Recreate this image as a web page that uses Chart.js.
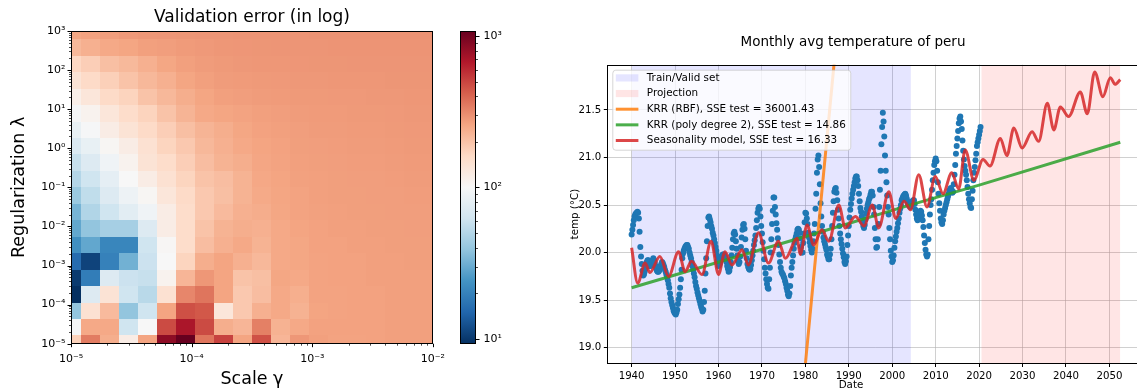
<!DOCTYPE html>
<html lang="en">
<head>
<meta charset="UTF-8">
<title>Validation error / Monthly avg temperature of peru</title>
<script src="https://cdn.jsdelivr.net/npm/chart.js"></script>
<style>
  html, body { margin: 0; padding: 0; background: #fff; }
  body { width: 1137px; height: 392px; overflow: hidden; position: relative; }
  canvas { position: absolute; top: 0; }
</style>
</head>
<body>
<canvas id="heat" width="450" height="392" style="left:0px"></canvas>
<canvas id="cbar" width="110" height="392" style="left:440px"></canvas>
<canvas id="temp" width="600" height="392" style="left:560px"></canvas>

<script>
// ---- left panel: validation error grid ----
const gammas = [1.000e-5, 1.438e-5, 2.069e-5, 2.976e-5, 4.281e-5, 6.158e-5, 8.859e-5, 1.274e-4, 1.833e-4, 2.637e-4,
                3.793e-4, 5.456e-4, 7.848e-4, 1.129e-3, 1.624e-3, 2.336e-3, 3.360e-3, 4.833e-3, 6.952e-3, 1.000e-2];
const lambdas = [1.000e-5, 2.637e-5, 6.952e-5, 1.833e-4, 4.833e-4, 1.274e-3, 3.360e-3, 8.859e-3, 2.336e-2, 6.158e-2,
                 1.624e-1, 4.281e-1, 1.129, 2.976, 7.848, 20.69, 54.56, 143.8, 379.3, 1000];
// errors[i][j] -> lambdas[i], gammas[j]
const errors = [
  [175, 345, 240, 120, 260, 850, 1079, 360, 510, 260, 460, 225, 285, 268, 262, 262, 265, 268, 268, 268],
  [95, 250, 250, 62, 100, 480, 700, 480, 240, 225, 335, 232, 250, 265, 265, 265, 265, 268, 268, 268],
  [39, 145, 215, 39, 62, 260, 465, 440, 133, 190, 235, 250, 232, 260, 262, 265, 265, 268, 268, 268],
  [9.31, 72, 140, 62, 52, 145, 320, 360, 260, 190, 210, 250, 238, 262, 262, 265, 265, 268, 268, 268],
  [10.2, 19, 72, 60, 58, 110, 225, 285, 260, 200, 207, 255, 250, 262, 265, 265, 268, 268, 268, 268],
  [16, 11, 20, 32, 60, 100, 170, 240, 260, 235, 220, 250, 255, 262, 265, 265, 268, 268, 270, 270],
  [23, 29, 21, 21, 62, 103, 155, 210, 235, 250, 230, 250, 255, 265, 265, 268, 268, 270, 270, 270],
  [29, 39, 45, 45, 72, 120, 155, 200, 230, 240, 235, 250, 260, 265, 268, 268, 270, 270, 272, 272],
  [33, 49, 62, 77, 91, 120, 155, 190, 215, 235, 242, 255, 262, 267, 268, 270, 270, 272, 272, 272],
  [41, 55, 72, 88, 104, 133, 160, 190, 207, 230, 248, 258, 262, 268, 270, 270, 272, 272, 274, 274],
  [50, 62, 80, 100, 120, 145, 170, 200, 210, 230, 252, 260, 266, 268, 270, 272, 272, 274, 276, 276],
  [58, 72, 91, 110, 140, 155, 180, 210, 230, 240, 256, 262, 268, 270, 272, 274, 274, 276, 278, 278],
  [70, 83, 104, 120, 145, 170, 190, 220, 235, 250, 260, 265, 270, 272, 274, 276, 276, 278, 280, 280],
  [83, 98, 120, 140, 160, 180, 207, 228, 240, 255, 264, 268, 272, 275, 276, 278, 278, 280, 282, 282],
  [96, 110, 133, 155, 172, 200, 228, 250, 258, 262, 268, 272, 275, 278, 278, 280, 280, 282, 284, 284],
  [115, 133, 160, 172, 200, 220, 240, 258, 268, 272, 276, 278, 280, 280, 282, 282, 284, 284, 286, 286],
  [140, 160, 178, 200, 220, 235, 258, 268, 275, 278, 280, 282, 284, 284, 285, 286, 286, 288, 288, 288],
  [165, 180, 207, 218, 235, 255, 268, 275, 280, 283, 285, 286, 287, 288, 288, 289, 289, 290, 290, 290],
  [220, 235, 250, 258, 268, 272, 278, 282, 286, 287, 288, 289, 290, 290, 291, 291, 292, 292, 292, 292],
  [255, 265, 272, 282, 285, 287, 288, 289, 290, 291, 292, 292, 292, 293, 293, 293, 293, 294, 294, 294]
];
const errMin = 9.31, errMax = 1079;
const gammaTicks = [1e-5, 1e-4, 1e-3, 1e-2];
const gammaTickLabels = ['10⁻⁵', '10⁻⁴', '10⁻³', '10⁻²'];
const lambdaTicks = [1e-5, 1e-4, 1e-3, 1e-2, 1e-1, 1, 10, 100, 1000];
const lambdaTickLabels = ['10⁻⁵', '10⁻⁴', '10⁻³', '10⁻²', '10⁻¹', '10⁰', '10¹', '10²', '10³'];
const cbarTicks = [10, 100, 1000];
const cbarTickLabels = ['10¹', '10²', '10³'];

// ---- right panel: temperature, one row per year, samples every two months ----
const tempFirstYear = 1940;
const tempSamplesPerYear = 6;
const tempByYear = [
  [20.19, 20.24, 20.29, 20.34, 20.38, 20.40], // 1940
  [20.41, 20.42, 20.43, 20.42, 20.36, 20.22],
  [20.06, 19.96, 19.88, 19.81, 19.76, 19.77],
  [19.80, 19.83, 19.87, 19.90, 19.92, 19.92],
  [19.89, 19.86, 19.86, 19.88, 19.90, 19.92],
  [19.94, 19.92, 19.89, 19.86, 19.83, 19.81],
  [19.80, 19.80, 19.81, 19.84, 19.86, 19.88],
  [19.90, 19.89, 19.87, 19.85, 19.82, 19.80],
  [19.77, 19.74, 19.71, 19.67, 19.63, 19.57],
  [19.52, 19.48, 19.45, 19.42, 19.39, 19.37],
  [19.36, 19.35, 19.37, 19.40, 19.46, 19.51], // 1950
  [19.56, 19.63, 19.72, 19.82, 19.94, 19.99],
  [20.02, 20.04, 20.06, 20.07, 20.08, 20.08],
  [20.06, 20.04, 20.00, 19.97, 19.94, 19.90],
  [19.86, 19.82, 19.78, 19.74, 19.69, 19.65],
  [19.62, 19.58, 19.55, 19.52, 19.49, 19.46],
  [19.43, 19.41, 19.38, 19.40, 19.48, 19.60],
  [19.78, 19.94, 20.12, 20.28, 20.37, 20.38],
  [20.35, 20.32, 20.28, 20.25, 20.21, 20.18],
  [20.14, 20.10, 20.06, 20.02, 19.97, 19.92],
  [19.86, 19.87, 19.89, 19.92, 19.95, 19.97], // 1960
  [19.98, 19.98, 19.97, 19.95, 19.93, 19.90],
  [19.86, 19.83, 19.80, 19.81, 19.85, 19.90],
  [19.97, 20.05, 20.14, 20.20, 20.22, 20.19],
  [20.12, 20.04, 19.97, 19.91, 19.88, 19.90],
  [19.96, 20.06, 20.16, 20.24, 20.29, 20.30],
  [20.25, 20.14, 20.02, 19.94, 19.88, 19.85],
  [19.83, 19.82, 19.83, 19.87, 19.92, 19.97],
  [20.02, 20.08, 20.13, 20.18, 20.26, 20.34],
  [20.42, 20.46, 20.48, 20.46, 20.38, 20.28],
  [20.20, 20.11, 20.02, 19.93, 19.84, 19.78], // 1970
  [19.72, 19.67, 19.63, 19.62, 19.72, 19.84],
  [20.00, 20.14, 20.30, 20.44, 20.58, 20.58],
  [20.48, 20.40, 20.31, 20.24, 20.15, 20.08],
  [19.98, 19.90, 19.84, 19.80, 19.78, 19.77],
  [19.75, 19.73, 19.70, 19.67, 19.63, 19.60],
  [19.56, 19.54, 19.57, 19.65, 19.76, 19.84],
  [19.90, 19.97, 20.04, 20.10, 20.14, 20.17],
  [20.20, 20.24, 20.25, 20.24, 20.21, 20.15],
  [20.06, 20.00, 20.00, 20.10, 20.20, 20.32],
  [20.42, 20.41, 20.36, 20.30, 20.21, 20.16], // 1980
  [20.11, 20.07, 20.03, 20.00, 20.04, 20.12],
  [20.20, 20.30, 20.46, 20.62, 20.84, 20.98],
  [21.02, 20.90, 20.72, 20.52, 20.38, 20.28],
  [20.22, 20.16, 20.12, 20.09, 20.06, 20.03],
  [19.98, 19.96, 19.93, 19.93, 19.98, 20.04],
  [20.14, 20.28, 20.42, 20.54, 20.64, 20.67],
  [20.68, 20.63, 20.55, 20.45, 20.36, 20.28],
  [20.20, 20.14, 20.09, 20.04, 19.99, 19.95],
  [19.90, 19.88, 19.91, 19.96, 20.08, 20.18],
  [20.28, 20.37, 20.45, 20.51, 20.57, 20.62], // 1990
  [20.66, 20.70, 20.74, 20.78, 20.80, 20.80],
  [20.76, 20.70, 20.62, 20.54, 20.47, 20.43],
  [20.38, 20.32, 20.28, 20.26, 20.29, 20.35],
  [20.41, 20.46, 20.50, 20.53, 20.56, 20.58],
  [20.61, 20.64, 20.64, 20.60, 20.48, 20.40],
  [20.26, 20.14, 20.05, 20.06, 20.14, 20.30],
  [20.48, 20.66, 20.86, 21.14, 21.32, 21.47],
  [21.38, 21.22, 21.02, 20.86, 20.74, 20.60],
  [20.48, 20.40, 20.26, 20.14, 20.02, 19.96],
  [19.90, 19.92, 19.97, 20.05, 20.12, 20.17], // 2000
  [20.22, 20.26, 20.31, 20.36, 20.42, 20.46],
  [20.50, 20.55, 20.57, 20.59, 20.60, 20.61],
  [20.62, 20.60, 20.57, 20.54, 20.51, 20.50],
  [20.49, 20.48, 20.49, 20.52, 20.54, 20.55],
  [20.55, 20.51, 20.45, 20.40, 20.36, 20.34],
  [20.36, 20.40, 20.42, 20.44, 20.43, 20.39],
  [20.34, 20.27, 20.18, 20.10, 20.03, 19.98],
  [19.96, 19.98, 20.14, 20.28, 20.40, 20.50],
  [20.56, 20.66, 20.76, 20.84, 20.92, 20.96],
  [20.99, 20.96, 20.86, 20.74, 20.62, 20.52], // 2010
  [20.44, 20.36, 20.32, 20.30, 20.34, 20.40],
  [20.44, 20.47, 20.50, 20.53, 20.56, 20.59],
  [20.62, 20.65, 20.67, 20.68, 20.66, 20.63],
  [20.64, 20.72, 20.82, 20.92, 21.04, 21.12],
  [21.20, 21.28, 21.36, 21.41, 21.43, 21.38],
  [21.30, 21.18, 21.07, 20.98, 20.91, 20.86],
  [20.82, 20.76, 20.69, 20.62, 20.56, 20.52],
  [20.48, 20.47, 20.56, 20.65, 20.76, 20.84],
  [20.90, 20.97, 21.04, 21.12, 21.16, 21.20],
  [21.24, 21.28, 21.32]                         // 2020
];
const rbfYears = [1979.0, 1988.0];
const rbfValues = [18.35, 22.65];
const polyYears = [1940.0, 1980.0, 2004.0, 2020.0, 2052.5];
const polyValues = [19.63, 20.17, 20.50, 20.71, 21.16];
const seasonYears = [1940.0,1941.4,1943.1,1944.2,1946.5,1948.5,1950.8,1952.3,1953.8,1956.2,1958.3,1960.0,1961.5,1963.1,1965.4,1966.9,
  1969.2,1971.5,1973.8,1975.4,1978.1,1978.8,1980.4,1981.9,1983.8,1985.4,1987.7,1989.2,1991.5,1993.5,1995.4,1996.9,1999.2,2000.8,
  2002.7,2004.2,2006.1,2008.0,2009.9,2011.7,2013.7,2015.3,2016.8,2018.8,2020.9,2022.5,2024.9,2026.4,2028.0,2029.9,2032.2,2033.7,
  2035.7,2037.2,2038.7,2040.6,2043.3,2044.9,2046.6,2048.5,2050.2,2051.3,2052.5];
const seasonValues = [20.05,19.68,19.89,19.79,19.96,19.75,20.01,19.80,19.91,19.77,20.12,19.77,20.01,19.87,20.03,19.87,
  20.21,19.89,20.12,19.94,20.15,19.98,20.29,20.08,20.24,20.12,20.50,20.26,20.38,20.28,20.50,20.26,20.64,20.36,
  20.54,20.45,20.82,20.48,20.80,20.62,20.84,20.67,21.08,20.76,20.98,20.91,21.20,21.02,21.31,21.10,21.27,21.17,
  21.57,21.29,21.53,21.43,21.69,21.46,21.90,21.64,21.84,21.77,21.82];
const trainSpan = [1940.0, 2004.3];
const projSpan = [2020.5, 2052.5];
const yearTicks = [1940, 1950, 1960, 1970, 1980, 1990, 2000, 2010, 2020, 2030, 2040, 2050];
const tempTicks = [19.0, 19.5, 20.0, 20.5, 21.0, 21.5];
const tempTickLabels = ['19.0', '19.5', '20.0', '20.5', '21.0', '21.5'];
const tempMin = 18.834, tempMax = 21.976;

Chart.defaults.font.family = "'DejaVu Sans', sans-serif";
Chart.defaults.color = '#000';
Chart.defaults.animation = false;
Chart.defaults.plugins.legend.display = false;
Chart.defaults.plugins.tooltip.enabled = false;

// RdBu_r colour map
const rdbu = [[5,48,97],[33,102,172],[67,147,195],[146,197,222],[209,229,240],[247,247,247],
              [253,219,199],[244,165,130],[214,96,77],[178,24,43],[103,0,31]];
function cmap(t) {
  t = Math.min(1, Math.max(0, t));
  const s = t * 10, i = Math.min(9, Math.floor(s)), f = s - i;
  const a = rdbu[i], b = rdbu[i + 1];
  return 'rgb(' + [0, 1, 2].map(k => Math.round(a[k] + (b[k] - a[k]) * f)).join(',') + ')';
}
function lognorm(v) {
  return (Math.log10(v) - Math.log10(errMin)) / (Math.log10(errMax) - Math.log10(errMin));
}
function withMinors(majors) {
  const out = [];
  majors.forEach((m, i) => {
    out.push({ value: m, major: true });
    if (i < majors.length - 1) for (let k = 2; k <= 9; k++) out.push({ value: m * k, major: false });
  });
  return out;
}
function cellEdges(c) {
  const e = [c[0] * c[0] / Math.sqrt(c[0] * c[1])];
  for (let k = 0; k < c.length - 1; k++) e.push(Math.sqrt(c[k] * c[k + 1]));
  const n = c.length - 1;
  e.push(c[n] * c[n] / Math.sqrt(c[n] * c[n - 1]));
  return e;
}
function drawLogTicks(ctx, scale, side, a) {
  ctx.save();
  ctx.strokeStyle = '#000';
  scale.ticks.forEach(t => {
    const len = t.major ? 3.5 : 2;
    ctx.lineWidth = t.major ? 1 : 0.7;
    const p = Math.round(scale.getPixelForValue(t.value)) + 0.5;
    ctx.beginPath();
    if (side === 'bottom') { ctx.moveTo(p, a.bottom); ctx.lineTo(p, a.bottom + len); }
    if (side === 'left') { ctx.moveTo(a.left, p); ctx.lineTo(a.left - len, p); }
    if (side === 'right') { ctx.moveTo(a.right, p); ctx.lineTo(a.right + len, p); }
    ctx.stroke();
  });
  ctx.restore();
}
function strokeFrame(ctx, a) {
  ctx.save();
  ctx.strokeStyle = '#000';
  ctx.lineWidth = 1;
  ctx.strokeRect(Math.round(a.left) + 0.5, Math.round(a.top) + 0.5,
                 Math.round(a.right) - Math.round(a.left) - 1, Math.round(a.bottom) - Math.round(a.top) - 1);
  ctx.restore();
}

// free text labels (titles); x defaults to the middle of the plot area
const axTitle = {
  id: 'axTitle',
  afterDraw(chart, args, opts) {
    const { ctx, chartArea: a } = chart;
    ctx.save();
    ctx.fillStyle = '#000';
    ctx.textAlign = 'center';
    ctx.textBaseline = 'middle';
    opts.items.forEach(t => {
      ctx.font = t.size + "px 'DejaVu Sans'";
      ctx.fillText(t.text, t.x !== undefined ? t.x : (a.left + a.right) / 2, t.y);
    });
    ctx.restore();
  }
};

const heatmap = {
  id: 'heatmap',
  beforeDatasetsDraw(chart) {
    const { ctx, chartArea: a, scales: { x, y } } = chart;
    const xe = cellEdges(gammas), ye = cellEdges(lambdas);
    ctx.save();
    ctx.beginPath();
    ctx.rect(a.left, a.top, a.width, a.height);
    ctx.clip();
    chart.data.datasets[0].data.forEach(c => {
      const x0 = Math.round(x.getPixelForValue(xe[c.j])), x1 = Math.round(x.getPixelForValue(xe[c.j + 1]));
      const y0 = Math.round(y.getPixelForValue(ye[c.i])), y1 = Math.round(y.getPixelForValue(ye[c.i + 1]));
      ctx.fillStyle = cmap(lognorm(c.v));
      ctx.fillRect(x0, y1, x1 - x0, y0 - y1);
    });
    ctx.restore();
  },
  afterDatasetsDraw(chart) {
    const { ctx, chartArea: a, scales: { x, y } } = chart;
    strokeFrame(ctx, a);
    drawLogTicks(ctx, x, 'bottom', a);
    drawLogTicks(ctx, y, 'left', a);
  }
};

const cells = [];
lambdas.forEach((l, i) => gammas.forEach((g, j) => cells.push({ x: g, y: l, v: errors[i][j], i, j })));

new Chart(document.getElementById('heat'), {
  type: 'scatter',
  data: { datasets: [{ data: cells, pointRadius: 0 }] },
  options: {
    responsive: false,
    devicePixelRatio: 1,
    layout: { padding: { top: 31, right: 13, left: 0, bottom: 0 } },
    scales: {
      x: {
        type: 'logarithmic', min: 1e-5, max: 1e-2,
        afterBuildTicks: s => { s.ticks = withMinors(gammaTicks); },
        afterFit: s => { s.height = 48.3; },
        ticks: { autoSkip: false, maxRotation: 0, padding: 5, font: { size: 11 },
                 callback: v => { const k = gammaTicks.indexOf(v); return k < 0 ? '' : gammaTickLabels[k]; } },
        grid: { drawOnChartArea: false, tickLength: 3.5, tickColor: 'rgba(0,0,0,0)' },
        border: { display: false },
        title: { display: true, text: 'Scale γ', font: { size: 17.5 }, padding: { top: 0, bottom: 2.5 } }
      },
      y: {
        type: 'logarithmic', min: 1e-5, max: 1e3,
        afterBuildTicks: s => { s.ticks = withMinors(lambdaTicks); },
        afterFit: s => { s.width = 71; },
        ticks: { autoSkip: false, padding: 2, font: { size: 11 },
                 callback: v => { const k = lambdaTicks.indexOf(v); return k < 0 ? '' : lambdaTickLabels[k]; } },
        grid: { drawOnChartArea: false, tickLength: 3.5, tickColor: 'rgba(0,0,0,0)' },
        border: { display: false },
        title: { display: true, text: 'Regularization λ', font: { size: 17.5 }, padding: { top: 8.5, bottom: 0 } }
      }
    },
    plugins: { axTitle: { items: [{ text: 'Validation error (in log)', size: 17, y: 17.5 }] } }
  },
  plugins: [heatmap, axTitle]
});

// colour bar
const cbarFill = {
  id: 'cbarFill',
  beforeDatasetsDraw(chart) {
    const { ctx, chartArea: a, scales: { y } } = chart;
    const g = ctx.createLinearGradient(0, y.getPixelForValue(errMin), 0, y.getPixelForValue(errMax));
    rdbu.forEach((c, k) => g.addColorStop(k / 10, 'rgb(' + c.join(',') + ')'));
    ctx.save();
    ctx.fillStyle = g;
    ctx.fillRect(a.left, a.top, a.width, a.height);
    ctx.restore();
    strokeFrame(ctx, a);
    drawLogTicks(ctx, y, 'right', a);
  }
};
new Chart(document.getElementById('cbar'), {
  type: 'scatter',
  data: { datasets: [{ data: [], pointRadius: 0 }] },
  options: {
    responsive: false,
    devicePixelRatio: 1,
    layout: { padding: { top: 31, right: 34, left: 20, bottom: 48.3 } },
    scales: {
      x: { display: false, min: 0, max: 1 },
      y: {
        type: 'logarithmic', position: 'right', min: errMin, max: errMax,
        afterBuildTicks: s => { s.ticks = withMinors(cbarTicks); },
        afterFit: s => { s.width = 40; },
        ticks: { autoSkip: false, padding: 4, font: { size: 11 },
                 callback: v => { const k = cbarTicks.indexOf(v); return k < 0 ? '' : cbarTickLabels[k]; } },
        grid: { drawOnChartArea: false, tickLength: 3.5, tickColor: 'rgba(0,0,0,0)' },
        border: { display: false }
      }
    }
  },
  plugins: [cbarFill]
});

// ---- right panel ----
const frame = {
  id: 'frame',
  afterDatasetsDraw(chart) { strokeFrame(chart.ctx, chart.chartArea); }
};
const boxLegend = {
  id: 'boxLegend',
  afterDatasetsDraw(chart) {
    const { ctx, chartArea: a } = chart;
    const x = a.left + 5.5, y = a.top + 5.5, w = 238, h = 80, r = 3;
    ctx.save();
    ctx.beginPath();
    ctx.roundRect(x, y, w, h, r);
    ctx.fillStyle = 'rgba(255,255,255,0.8)';
    ctx.fill();
    ctx.strokeStyle = 'rgba(204,204,204,0.8)';
    ctx.lineWidth = 1;
    ctx.stroke();
    ctx.font = "10.4px 'DejaVu Sans'";
    ctx.textBaseline = 'middle';
    [0, 1, 3, 4, 5].forEach((idx, k) => {
      const ds = chart.data.datasets[idx];
      const cy = y + 7.7 + k * 15.65;
      if (ds.fill) {
        ctx.fillStyle = ds.backgroundColor;
        ctx.fillRect(x + 3, cy - 3.6, 22.6, 7.2);
      } else {
        ctx.strokeStyle = ds.borderColor;
        ctx.lineWidth = ds.borderWidth;
        ctx.beginPath();
        ctx.moveTo(x + 3, cy);
        ctx.lineTo(x + 25.6, cy);
        ctx.stroke();
      }
      ctx.fillStyle = '#000';
      ctx.fillText(ds.label, x + 34, cy);
    });
    ctx.restore();
  }
};
const pts = (xs, ys) => xs.map((v, i) => ({ x: v, y: ys[i] }));
const tempPoints = [];
tempByYear.forEach((row, yi) => row.forEach((t, m) =>
  tempPoints.push({ x: tempFirstYear + yi + m / tempSamplesPerYear, y: t })));

new Chart(document.getElementById('temp'), {
  type: 'scatter',
  data: {
    datasets: [
      { label: 'Train/Valid set', type: 'line', data: trainSpan.map(v => ({ x: v, y: tempMax })),
        fill: 'start', backgroundColor: 'rgba(0,0,255,0.1)', borderWidth: 0, pointRadius: 0, order: 10 },
      { label: 'Projection', type: 'line', data: projSpan.map(v => ({ x: v, y: tempMax })),
        fill: 'start', backgroundColor: 'rgba(255,0,0,0.1)', borderWidth: 0, pointRadius: 0, order: 10 },
      { label: 'Monthly temperature', data: tempPoints,
        pointRadius: 3, backgroundColor: '#1f77b4', borderWidth: 0, order: 5 },
      { label: 'KRR (RBF), SSE test = 36001.43', type: 'line', data: pts(rbfYears, rbfValues),
        borderColor: 'rgba(255,127,14,0.85)', borderWidth: 3, pointRadius: 0, fill: false, clip: 0, order: 3 },
      { label: 'KRR (poly degree 2), SSE test = 14.86', type: 'line', data: pts(polyYears, polyValues),
        borderColor: 'rgba(44,160,44,0.85)', borderWidth: 3, pointRadius: 0, fill: false, clip: 0, order: 2 },
      { label: 'Seasonality model, SSE test = 16.33', type: 'line', data: pts(seasonYears, seasonValues),
        borderColor: 'rgba(214,39,40,0.85)', borderWidth: 3, pointRadius: 0, fill: false, clip: 0,
        cubicInterpolationMode: 'monotone', order: 1 }
    ]
  },
  options: {
    responsive: false,
    devicePixelRatio: 1,
    layout: { padding: { top: 64.7, right: 15.4, left: 0, bottom: 0 } },
    scales: {
      x: {
        type: 'linear', min: 1934.4, max: 2058.1,
        afterBuildTicks: s => { s.ticks = yearTicks.map(v => ({ value: v })); },
        afterFit: s => { s.height = 28.5; },
        ticks: { autoSkip: false, maxRotation: 0, padding: 3, font: { size: 10.2 }, callback: v => String(v) },
        grid: { color: 'rgba(176,176,176,0.6)', lineWidth: 1, tickColor: '#000', tickLength: 3.5 },
        border: { display: false }
      },
      y: {
        type: 'linear', min: tempMin, max: tempMax,
        afterBuildTicks: s => { s.ticks = tempTicks.map(v => ({ value: v })); },
        afterFit: s => { s.width = 47.3; },
        ticks: { autoSkip: false, padding: 2.5, font: { size: 10.2 },
                 callback: v => { const k = tempTicks.indexOf(v); return k < 0 ? '' : tempTickLabels[k]; } },
        grid: { color: 'rgba(176,176,176,0.6)', lineWidth: 1, tickColor: '#000', tickLength: 3.5 },
        border: { display: false },
        title: { display: true, text: 'temp (°C)', font: { size: 10.3 }, padding: { top: 9, bottom: 0 } }
      }
    },
    plugins: { axTitle: { items: [
      { text: 'Monthly avg temperature of peru', size: 13.5, x: 293, y: 42 },
      { text: 'Date', size: 10.3, x: 291, y: 385 }
    ] } }
  },
  plugins: [frame, boxLegend, axTitle]
});
</script>
</body>
</html>
